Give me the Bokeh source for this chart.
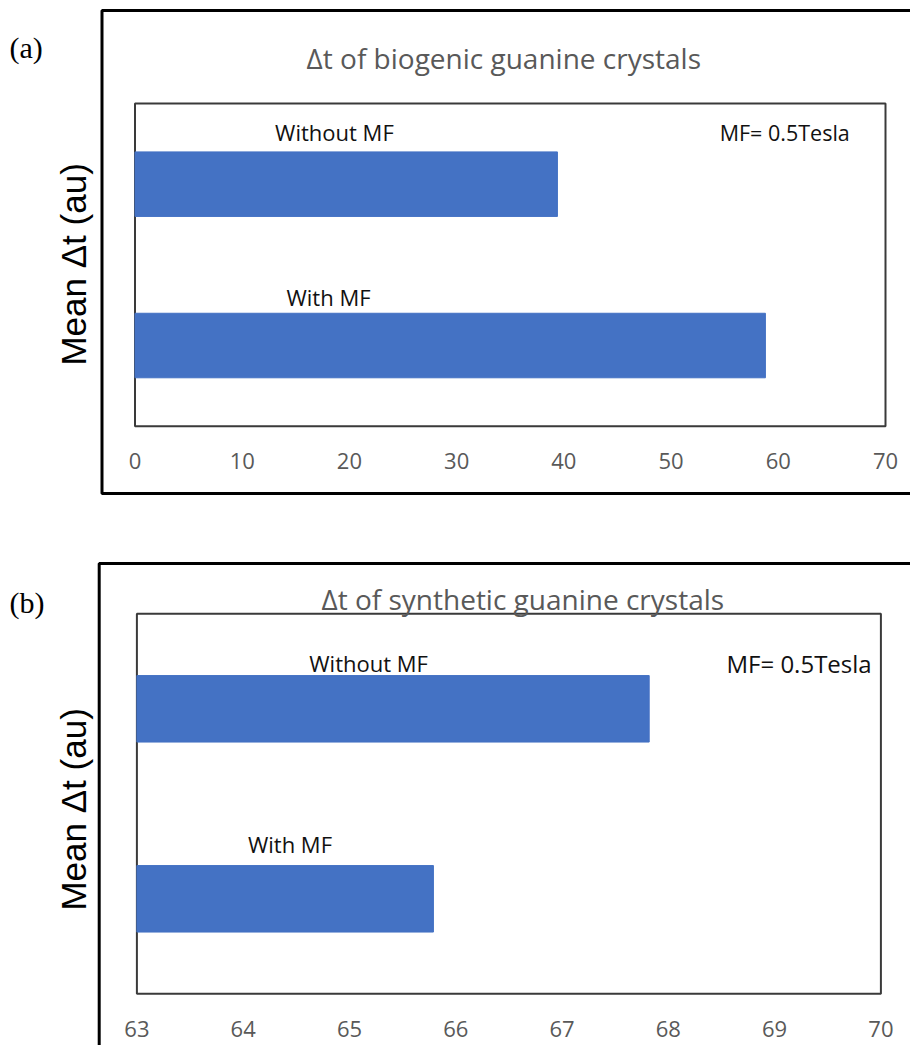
import math
from bokeh.plotting import figure
from bokeh.models import Range1d, FixedTicker, Label, LinearAxis
from bokeh.layouts import column
from bokeh.core.properties import value
from bokeh.embed import file_html
from bokeh.resources import INLINE

# ---- data ----
categories = ["With MF", "Without MF"]          # bottom -> top
bio_values = [58.8, 39.4]                        # panel (a)
syn_values = [65.79, 67.82]                      # panel (b)
bio_ticks = [0, 10, 20, 30, 40, 50, 60, 70]
syn_ticks = [63, 64, 65, 66, 67, 68, 69, 70]
bio_title = "Δt of biogenic guanine crystals"
syn_title = "Δt of synthetic guanine crystals"
y_label = "Mean  Δt (au)"
mf_note = "MF= 0.5Tesla"

BAR = "#4472C4"
CAL = "Open Sans"
W = 910


def panel(values, ticks, title, tag, height, box, outer, bar_h,
          lab_x, lab_off, note_x, note_off, note_size,
          title_px, tag_px, ylab_px):
    L, R, T, B = box                      # inner plot area (canvas px)
    n = len(categories)
    xs = (R - L) / (ticks[-1] - ticks[0])
    ys = (B - T) / n

    def dx(px):
        return ticks[0] + (px - L) / xs

    def dy(py):
        return (B - py) / ys

    p = figure(width=W, height=height, output_backend="svg", toolbar_location=None,
               x_range=Range1d(dx(0), dx(W)), y_range=Range1d(dy(height), dy(0)),
               min_border=0, x_axis_location=None, y_axis_location=None)
    p.title.visible = False
    p.outline_line_color = None
    p.background_fill_color = "white"
    p.border_fill_color = "white"
    p.xgrid.visible = False
    p.ygrid.visible = False

    ypos = [i + 0.5 for i in range(n)]

    # outer panel frame
    ol, ot, ob = outer
    p.quad(left=dx(ol), right=dx(W + 40), top=dy(ot), bottom=dy(ob),
           fill_color=None, line_color="black", line_width=3)
    # plot area box
    p.quad(left=ticks[0], right=ticks[-1], bottom=0, top=n,
           fill_color=None, line_color="#3a3a3a", line_width=2)

    p.hbar(y=ypos, left=ticks[0], right=values, height=bar_h,
           fill_color=BAR, line_color=BAR)
    p.text(x=lab_x, y=ypos, text=categories, y_offset=lab_off,
           text_align="center", text_baseline="middle",
           text_font=value(CAL), text_font_size="22px", text_color="#111111")
    p.text(x=[note_x], y=[ypos[1]], text=[mf_note], y_offset=note_off,
           text_align="center", text_baseline="middle",
           text_font=value(CAL), text_font_size=note_size, text_color="#111111")

    xa = LinearAxis(fixed_location=0, ticker=FixedTicker(ticks=ticks))
    xa.axis_line_color = None
    xa.major_tick_line_color = None
    xa.minor_tick_line_color = None
    xa.major_label_standoff = 21
    xa.major_label_text_font = CAL
    xa.major_label_text_font_size = "22px"
    xa.major_label_text_color = "#595959"
    p.add_layout(xa, "below")

    p.add_layout(Label(x=dx(title_px[0]), y=dy(title_px[1]), text=title,
                       text_align="center", text_baseline="alphabetic",
                       text_font=CAL, text_font_size="28px", text_color="#595959"))
    p.add_layout(Label(x=dx(tag_px[0]), y=dy(tag_px[1]), text=tag,
                       text_align="left", text_baseline="alphabetic",
                       text_font="Liberation Serif", text_font_size="30px",
                       text_color="#000000"))
    p.add_layout(Label(x=dx(ylab_px[0]), y=dy(ylab_px[1]), text=y_label,
                       angle=math.pi / 2, text_align="center", text_baseline="middle",
                       text_font="Liberation Sans", text_font_size="35px",
                       text_color="#000000"))
    return p


pa = panel(bio_values, bio_ticks, bio_title, "(a)", 520,
           (134.5, 885, 103, 425.7), (101.5, 10, 493), 0.4,
           [18.05, 18.6], [-49, -52], 60.6, -52, "21.5px",
           (503.3, 57), (9, 47), (73, 259))

pb = panel(syn_values, syn_ticks, syn_title, "(b)", 525,
           (136.4, 880.4, 93.3, 473.3), (98.7, 43, 560), 0.35,
           [64.44, 65.18], [-55, -46], 69.23, -45, "24px",
           (522.3, 78), (9, 82), (73, 284))

layout = column(pa, pb, spacing=0)
open("out.html", "w").write(file_html(layout, INLINE))
